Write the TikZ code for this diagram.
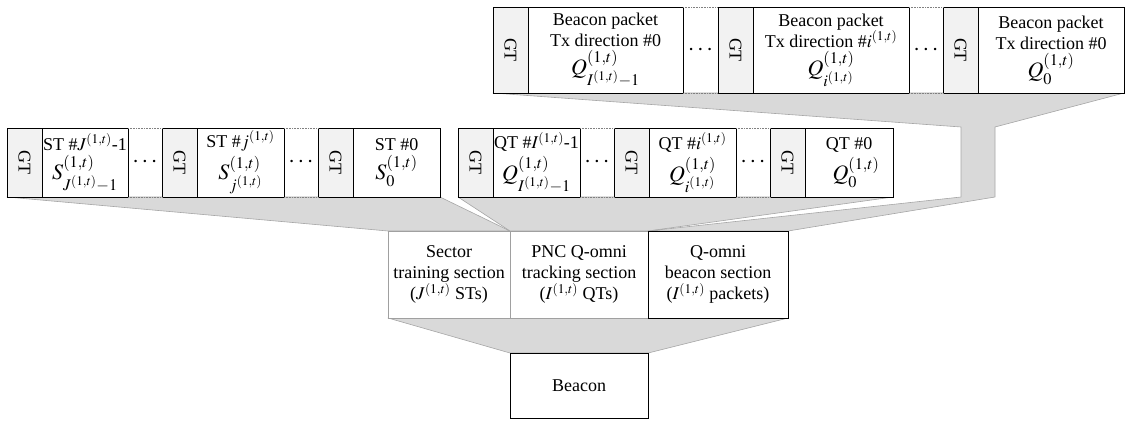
\documentclass[tikz,border=0pt]{standalone}
\usepackage{mathptmx}
\usepackage{fontspec}
\setmainfont{Liberation Serif}
\usepackage{graphicx}
\usepackage{tikz}
\usetikzlibrary{positioning,backgrounds}
\definecolor{gtfill}{HTML}{F2F2F2}
\definecolor{funfill}{HTML}{D9D9D9}
\definecolor{funedge}{HTML}{A6A6A6}
\definecolor{secgray}{HTML}{A0A0A0}
\tikzset{
  base/.style={anchor=north west,inner sep=0pt,outer sep=0pt,align=center,font=\fontsize{18}{21}\selectfont},
  gtbox/.style={base,draw,line width=0.8pt,fill=gtfill,minimum width=35pt},
  pkbox/.style={base,draw,line width=0.8pt,fill=white},
  gapbox/.style={base,font=\fontsize{24}{26}\selectfont},
  toprow/.style={minimum height=86pt},
  midrow/.style={minimum height=69pt},
  dotl/.style={densely dotted,gray,line width=0.6pt},
  fun/.style={fill=funfill,draw=funedge,line width=0.6pt,line join=round},
  secbox/.style={base,draw=secgray,line width=0.8pt,fill=white,minimum height=87pt},
  bigbox/.style={base,draw,line width=0.8pt,fill=white}
}
\newcommand{\gtxt}{\rotatebox{-90}{GT}}
\newcommand{\slot}[1]{{\fontsize{22}{24}\selectfont$#1$}}

\begin{document}
\begin{tikzpicture}[x=1pt,y=-1pt]
\useasboundingbox (0,0) rectangle (1126,420);
% sector training row
\node[gtbox,midrow] (g1) at (7,128) {\gtxt};
\node[pkbox,midrow,minimum width=86pt] (s1) at (g1.north east) {ST \#$J^{(1,t)}$-1\\[4pt]\slot{S^{(1,t)}_{J^{(1,t)}-1}}};
\node[gapbox,midrow,minimum width=34pt] (d1) at (s1.north east) {$\cdots$};
\node[gtbox,midrow] (g2) at (d1.north east) {\gtxt};
\node[pkbox,midrow,minimum width=87pt] (s2) at (g2.north east) {ST \#$j^{(1,t)}$\\[4pt]\slot{S^{(1,t)}_{j^{(1,t)}}}};
\node[gapbox,midrow,minimum width=34pt] (d2) at (s2.north east) {$\cdots$};
\node[gtbox,midrow] (g3) at (d2.north east) {\gtxt};
\node[pkbox,midrow,minimum width=87pt] (s3) at (g3.north east) {ST \#0\\[4pt]\slot{S^{(1,t)}_{0}}};
% Q-omni tracking row
\node[gtbox,midrow] (g4) at (458,128) {\gtxt};
\node[pkbox,midrow,minimum width=87pt] (q1) at (g4.north east) {QT \#$I^{(1,t)}$-1\\[4pt]\slot{Q^{(1,t)}_{I^{(1,t)}-1}}};
\node[gapbox,midrow,minimum width=34pt] (d3) at (q1.north east) {$\cdots$};
\node[gtbox,midrow] (g5) at (d3.north east) {\gtxt};
\node[pkbox,midrow,minimum width=87pt] (q2) at (g5.north east) {QT \#$i^{(1,t)}$\\[4pt]\slot{Q^{(1,t)}_{i^{(1,t)}}}};
\node[gapbox,midrow,minimum width=34pt] (d4) at (q2.north east) {$\cdots$};
\node[gtbox,midrow] (g6) at (d4.north east) {\gtxt};
\node[pkbox,midrow,minimum width=88pt] (q3) at (g6.north east) {QT \#0\\[4pt]\hspace*{14pt}\slot{Q^{(1,t)}_{0}}};
% beacon packets row
\node[gtbox,toprow] (g7) at (493,7) {\gtxt};
\node[pkbox,toprow,minimum width=155pt] (p1) at (g7.north east) {Beacon packet\\Tx direction \#0\\[3pt]\slot{Q^{(1,t)}_{I^{(1,t)}-1}}};
\node[gapbox,toprow,minimum width=35pt] (d5) at (p1.north east) {$\cdots$};
\node[gtbox,toprow] (g8) at (d5.north east) {\gtxt};
\node[pkbox,toprow,minimum width=156pt] (p2) at (g8.north east) {Beacon packet\\Tx direction \#$i^{(1,t)}$\\[3pt]\slot{Q^{(1,t)}_{i^{(1,t)}}}};
\node[gapbox,toprow,minimum width=34pt] (d6) at (p2.north east) {$\cdots$};
\node[gtbox,toprow] (g9) at (d6.north east) {\gtxt};
\node[pkbox,toprow,minimum width=146pt] (p3) at (g9.north east) {Beacon packet\\Tx direction \#0\\[3pt]\slot{Q^{(1,t)}_{0}}};
% dotted edges of the gaps
\foreach \d in {d1,d2,d3,d4,d5,d6}{
  \draw[dotl] (\d.north west) -- (\d.north east);
  \draw[dotl] (\d.south west) -- (\d.south east);
}
% sections and beacon
\node[secbox,minimum width=122pt] (sec) at (388,231) {Sector\\training section\\($J^{(1,t)}$ STs)};
\node[secbox,minimum width=138pt] (pnc) at (sec.north east) {PNC Q-omni\\tracking section\\($I^{(1,t)}$ QTs)};
\node[bigbox,minimum width=140pt,minimum height=87pt] (qom) at (pnc.north east) {Q-omni\\beacon section\\($I^{(1,t)}$ packets)};
\node[bigbox,minimum width=138pt,minimum height=65pt] (bcn) at (510,353) {Beacon};
% funnels
\coordinate (ul) at (961,127);
\coordinate (ur) at (995,127);
\coordinate (ll) at (961,197);
\coordinate (lr) at (995,197);
\begin{scope}[on background layer]
\draw[fun] (g1.south west) -- (s3.south east) -- (sec.north east) -- (sec.north west) -- cycle;
\draw[fun] (g4.south west) -- (q3.south east) -- (pnc.north east) -- (pnc.north west) -- cycle;
\draw[fun] (g7.south west) -- (p3.south east) -- (ur) -- (lr) -- (qom.north east) -- (qom.north west) -- (ll) -- (ul) -- cycle;
\draw[fun] (sec.south west) -- (qom.south east) -- (bcn.north east) -- (bcn.north west) -- cycle;
\end{scope}
\end{tikzpicture}
\end{document}
